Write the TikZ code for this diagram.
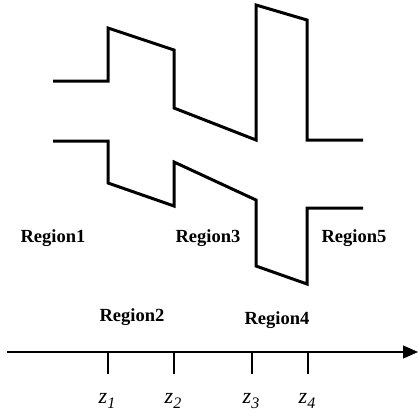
\documentclass[tikz,border=0pt]{standalone}
\usepackage{fontspec}
\setmainfont{Liberation Serif}
\usetikzlibrary{arrows.meta}
\newcommand{\zsub}[1]{z\raisebox{-5pt}{\fontsize{16}{18}\selectfont\itshape #1}}
\begin{document}
\begin{tikzpicture}[x=1pt,y=-1pt,
  wall/.style={line width=3pt,line join=miter},
  region/.style={font=\fontsize{18.5}{20}\selectfont\bfseries},
  zlabel/.style={font=\fontsize{22}{24}\selectfont\itshape},
  tick/.style={line width=1.3pt}]
\useasboundingbox (0,0) rectangle (418,418);
% upper wall
\draw[wall] (53,81) -- (108,81) -- (108,28) -- (174,50) -- (174,108) -- (256,140) -- (256,5) -- (307,20) -- (307,140) -- (363,140);
% lower wall
\draw[wall] (53,141) -- (108,141) -- (108,183) -- (174,206) -- (174,162) -- (256,200) -- (256,266) -- (307,284) -- (307,208) -- (363,208);
% region labels
\node[region] (r1) at (53,238) {Region1};
\node[region] (r3) at (208,238) {Region3};
\node[region] (r5) at (354,238) {Region5};
\node[region] (r2) at (132,317) {Region2};
\node[region] (r4) at (277,320) {Region4};
% axis
\coordinate (a0) at (7,352);
\coordinate (a1) at (418,352);
\draw[line width=1.3pt,-{Triangle[length=15pt,width=13pt]}] (a0) -- (a1);
\foreach \x/\n in {108/1,174/2,252/3,308/4}{
  \coordinate (t\n) at (\x,352);
  \draw[tick] (t\n) -- ++(0,22);
  \node[zlabel] (z\n) at (\x-1,401) {\zsub{\n}};
}
\end{tikzpicture}
\end{document}
